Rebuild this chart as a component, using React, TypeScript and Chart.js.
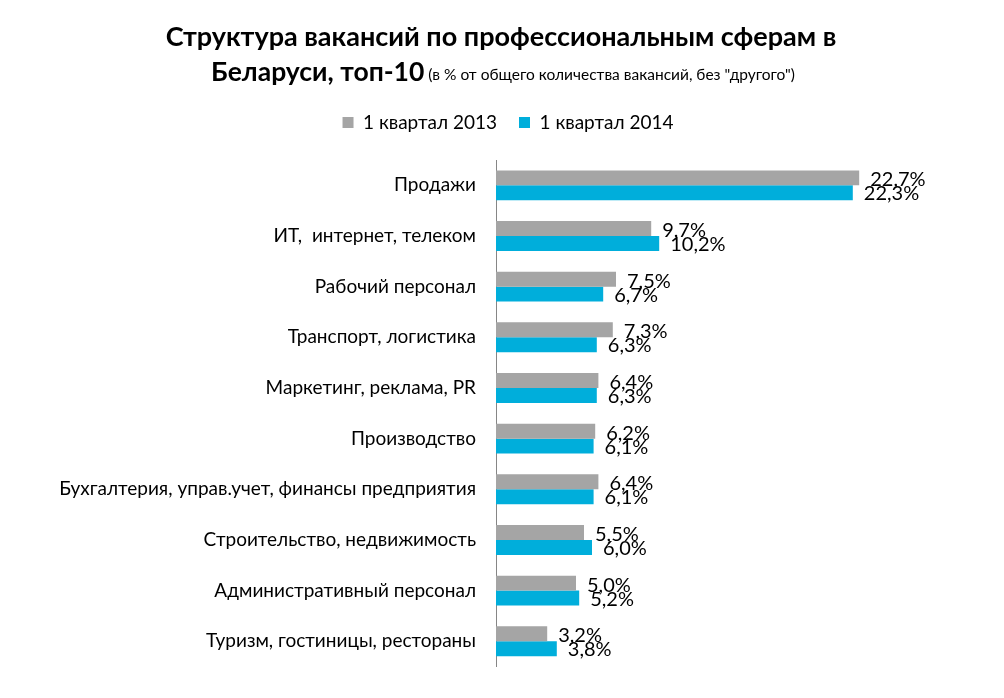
import React, { useEffect, useRef } from "react";
import { Chart, registerables } from "chart.js";

Chart.register(...registerables);

const categories = [
  "Продажи",
  "ИТ,  интернет, телеком",
  "Рабочий персонал",
  "Транспорт, логистика",
  "Маркетинг, реклама, PR",
  "Производство",
  "Бухгалтерия, управ.учет, финансы предприятия",
  "Строительство, недвижимость",
  "Административный персонал",
  "Туризм, гостиницы, рестораны",
];
const series2013 = [22.7, 9.7, 7.5, 7.3, 6.4, 6.2, 6.4, 5.5, 5.0, 3.2];
const series2014 = [22.3, 10.2, 6.7, 6.3, 6.3, 6.1, 6.1, 6.0, 5.2, 3.8];
const seriesNames = ["1 квартал 2013", "1 квартал 2014"];
const seriesColors = ["#A5A5A5", "#00AEDB"];
const titleLine1 = "Структура вакансий по профессиональным сферам в";
const titleLine2Bold = "Беларуси, топ-10";
const titleLine2Note = " (в % от общего количества вакансий, без \"другого\")";

const FONT = "Lato, 'Open Sans', sans-serif";

const titlePlugin = {
  id: "customTitle",
  afterInit(chart: any) {
    const lg = chart.legend;
    if (lg) {
      const f = lg.fit.bind(lg);
      lg.fit = function () {
        f();
        this.height += 18;
      };
    }
  },
  afterLayout(chart: any) {
    const lg = chart.legend;
    if (lg) {
      // centre the legend on the page instead of the padded layout box
      const shift = 508 - (lg.left + lg.right) / 2;
      lg.left += shift;
      lg.right += shift;
    }
  },
  afterDraw(chart: any) {
    const ctx = chart.ctx;
    ctx.save();
    ctx.fillStyle = "#000";
    ctx.textBaseline = "middle";
    ctx.font = `bold 27px ${FONT}`;
    ctx.textAlign = "center";
    ctx.fillText(titleLine1, 501, 37);
    ctx.font = `bold 26.5px ${FONT}`;
    const w1 = ctx.measureText(titleLine2Bold).width;
    ctx.font = `15.5px ${FONT}`;
    const w2 = ctx.measureText(titleLine2Note).width;
    const start = 503 - (w1 + w2) / 2;
    ctx.textAlign = "left";
    ctx.font = `bold 26.5px ${FONT}`;
    ctx.fillText(titleLine2Bold, start, 72);
    ctx.font = `15.5px ${FONT}`;
    ctx.fillText(titleLine2Note, start + w1, 75);
    ctx.restore();
  },
};

const valueLabelPlugin = {
  id: "valueLabels",
  afterDatasetsDraw(chart: any) {
    const ctx = chart.ctx;
    ctx.save();
    ctx.fillStyle = "#000";
    ctx.font = `20px ${FONT}`;
    ctx.textAlign = "left";
    ctx.textBaseline = "middle";
    chart.data.datasets.forEach((ds: any, di: number) => {
      const meta = chart.getDatasetMeta(di);
      meta.data.forEach((bar: any, i: number) => {
        const v = ds.data[i] as number;
        const txt = v.toFixed(1).replace(".", ",") + "%";
        ctx.fillText(txt, bar.x + 11, bar.y + (di === 0 ? 2 : 1));
      });
    });
    ctx.restore();
  },
};

export default function App() {
  const ref = useRef<HTMLCanvasElement | null>(null);
  useEffect(() => {
    if (!ref.current) return;
    const chart = new Chart(ref.current, {
      type: "bar",
      data: {
        labels: categories,
        datasets: [
          { label: seriesNames[0], data: series2013, backgroundColor: seriesColors[0] },
          { label: seriesNames[1], data: series2014, backgroundColor: seriesColors[1] },
        ],
      },
      options: {
        indexAxis: "y",
        animation: false,
        responsive: false,
        layout: { padding: { top: 91, right: 108, left: 0, bottom: 30 } },
        datasets: {
          bar: { categoryPercentage: 0.59, barPercentage: 1.0 },
        },
        scales: {
          x: { display: false, min: 0, max: 25 },
          y: {
            grid: { display: false, drawTicks: false },
            border: { display: true, color: "#868686", width: 1 },
            ticks: { color: "#000", font: { family: FONT, size: 19 }, padding: 20 },
            afterFit(scale: any) {
              scale.width = 496;
            },
          },
        },
        plugins: {
          title: { display: false },
          tooltip: { enabled: false },
          legend: {
            position: "top",
            labels: {
              color: "#000",
              font: { family: FONT, size: 19 },
              boxWidth: 11,
              boxHeight: 11,
              padding: 22,
            },
          },
        },
      },
      plugins: [titlePlugin, valueLabelPlugin],
    });
    return () => chart.destroy();
  }, []);
  return (
    <div style={{ position: "fixed", left: 0, top: 0, width: 1004, height: 698, background: "#fff" }}>
      <canvas ref={ref} width={1004} height={698} />
    </div>
  );
}
